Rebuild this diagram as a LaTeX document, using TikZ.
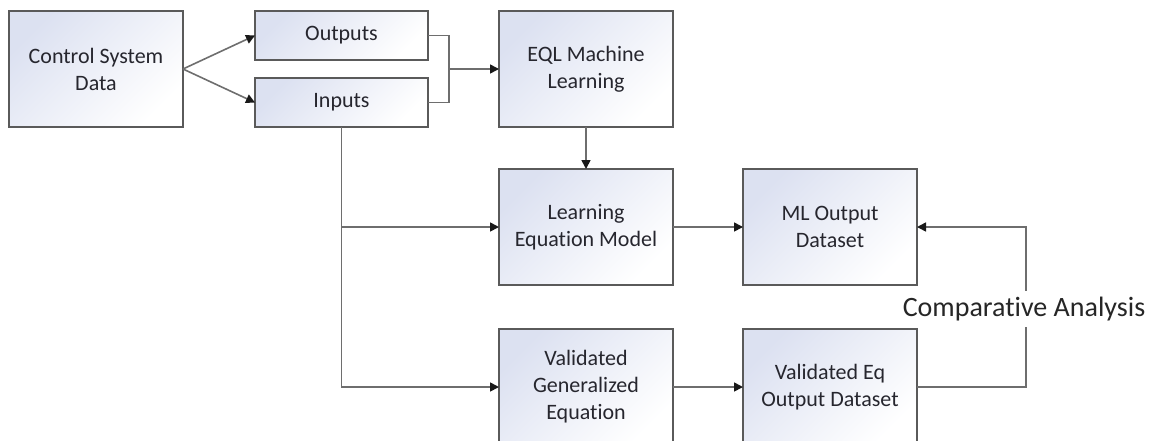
\documentclass[tikz,border=0pt]{standalone}
\usepackage{fontspec}
\setmainfont{Carlito}[Ligatures=NoCommon]
\usetikzlibrary{arrows.meta}

\definecolor{boxedge}{HTML}{5A5A5A}
\definecolor{boxtint}{HTML}{DCE1F1}
\definecolor{linkgray}{HTML}{6E6E6E}
\definecolor{inkgray}{HTML}{26262E}

\tikzset{
  block/.style={draw=boxedge, line width=1.8pt, rectangle, inner sep=0pt, outer sep=0pt,
    top color=boxtint, bottom color=white, shading angle=45,
    minimum width=174pt, minimum height=116pt, align=center, text=inkgray,
    font=\fontsize{22}{27}\selectfont},
  slim/.style={block, minimum width=173pt, minimum height=49pt},
  link/.style={draw=linkgray, line width=1.6pt},
  arrow/.style={link, -{Triangle[length=9pt,width=9pt,color=black!90]}},
  note/.style={fill=white, inner xsep=2pt, inner ysep=6pt, text=black!85,
    font=\fontsize{28}{32}\selectfont}
}

\begin{document}
\begin{tikzpicture}[x=1pt, y=-1pt]
  \useasboundingbox (0,0) rectangle (1154,440);
  \clip (0,0) rectangle (1154,440);

  % blocks
  \node[block] (csd) at (96,69) {Control System\\Data};
  \node[slim] (out) at (341.5,35.5) {Outputs};
  \node[slim] (inp) at (341.5,102.5) {Inputs};
  \node[block] (eql) at (586,69) {EQL Machine\\Learning};
  \node[block] (lem) at (586,227) {Learning\\Equation Model};
  \node[block] (ml) at (830,227) {ML Output\\Dataset};
  \node[block] (vge) at (586,387) {Validated\\Generalized\\Equation};
  \node[block] (veq) at (830,387) {Validated Eq\\Output Dataset};

  % junction points
  \coordinate (merge) at (449,69);
  \coordinate (split) at (inp.south |- lem.west);
  \coordinate (turn) at (1026,227);

  % data split
  \draw[arrow] (csd.east) -- (out.west);
  \draw[arrow] (csd.east) -- (inp.west);

  % outputs and inputs join into the learner
  \draw[link] (out.east) -| (merge) |- (inp.east);
  \draw[arrow] (merge) -- (eql.west);
  \draw[arrow] (eql.south) -- (lem.north);

  % inputs feed both models
  \draw[arrow] (inp.south) |- (vge.west);
  \draw[arrow] (split) -- (lem.west);

  % model outputs
  \draw[arrow] (lem.east) -- (ml.west);
  \draw[arrow] (vge.east) -- (veq.west);

  % comparison loop
  \draw[arrow] (veq.east) -| (turn) |- (ml.east);
  \node[note, anchor=base] (cmp) at (1024,316) {Comparative Analysis};
\end{tikzpicture}
\end{document}
